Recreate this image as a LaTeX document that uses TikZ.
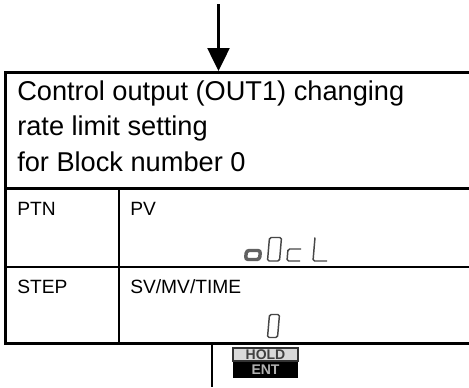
\documentclass[tikz,border=0pt]{standalone}
\usepackage{fontspec}
\setmainfont{Liberation Sans}
\usetikzlibrary{arrows.meta}
\begin{document}
\begin{tikzpicture}[x=0.75pt,y=-0.75pt,
  thickline/.style={line width=2.25pt, line join=miter},
  thinline/.style={line width=1.5pt},
  maintext/.style={anchor=base west, inner sep=0pt, font=\fontsize{20.4}{24}\selectfont},
  smalltext/.style={anchor=base west, inner sep=0pt, font=\fontsize{14.4}{16}\selectfont},
  seg/.style={line width=1.1pt, draw=black!72, rounded corners=1.2pt},
  boldseg/.style={line width=2.6pt, draw=black!62, rounded corners=2pt},
  holdkey/.style={draw=black!80, fill=gray!30, line width=0.9pt, minimum width=48.75pt, minimum height=9.75pt, inner sep=0pt, font=\bfseries\fontsize{10.5}{10}\selectfont, text=black!75},
  entkey/.style={fill=black, minimum width=48.75pt, minimum height=12pt, inner sep=0pt, font=\bfseries\fontsize{10.5}{10}\selectfont, text=gray!60, anchor=north}]
\useasboundingbox (0,0) rectangle (469,387);
\fill[white] (0,0) rectangle (469,387);

% incoming arrow
\coordinate (src) at (218.5,4);
\coordinate (dst) at (218.5,71);
\draw[line width=1.9pt, -{Triangle[length=17.25pt,width=16.5pt]}] (src) -- (dst);

% table frame
\draw[thickline] (469,72.5) -- (5,72.5) -- (5,343) -- (469,343);
\draw[thickline] (5,188) -- (469,188);
\draw[thinline] (5,267) -- (469,267);
\draw[thinline] (118.5,188) -- (118.5,343);

% header text
\node[maintext] (t1) at (17,100) {Control output (OUT1) changing};
\node[maintext] (t2) at (17,135.5) {rate limit setting};
\node[maintext] (t3) at (17,171) {for Block number 0};

% cells
\node[smalltext] (ptn) at (17,215) {PTN};
\node[smalltext] (pv) at (130,215) {PV};
\node[smalltext] (stp) at (17,293) {STEP};
\node[smalltext] (sv) at (130,293) {SV/MV/TIME};

% 7-segment "oOcL"
\draw[boldseg] (246.5,250.5) -- (260.5,250.5) -- (259.5,259.5) -- (245.5,259.5) -- cycle;
\draw[seg] (269.5,237.5) -- (281.5,237.5) -- (279.5,261) -- (267.5,261) -- cycle;
\draw[seg] (301,249) -- (288,249) -- (287,261) -- (300,261);
\draw[seg] (315,237.5) -- (313,261) -- (327,261);

% 7-segment "0"
\draw[seg] (269.5,314.5) -- (279.5,314.5) -- (277.5,337.5) -- (267.5,337.5) -- cycle;

% outgoing line
\coordinate (b1) at (212,343);
\coordinate (b2) at (212,387);
\draw[thinline] (b1) -- (b2);

% HOLD/ENT key
\node[holdkey] (hold) at (265.5,354.5) {HOLD};
\node[entkey] (ent) at (hold.south) {ENT};
\end{tikzpicture}
\end{document}
